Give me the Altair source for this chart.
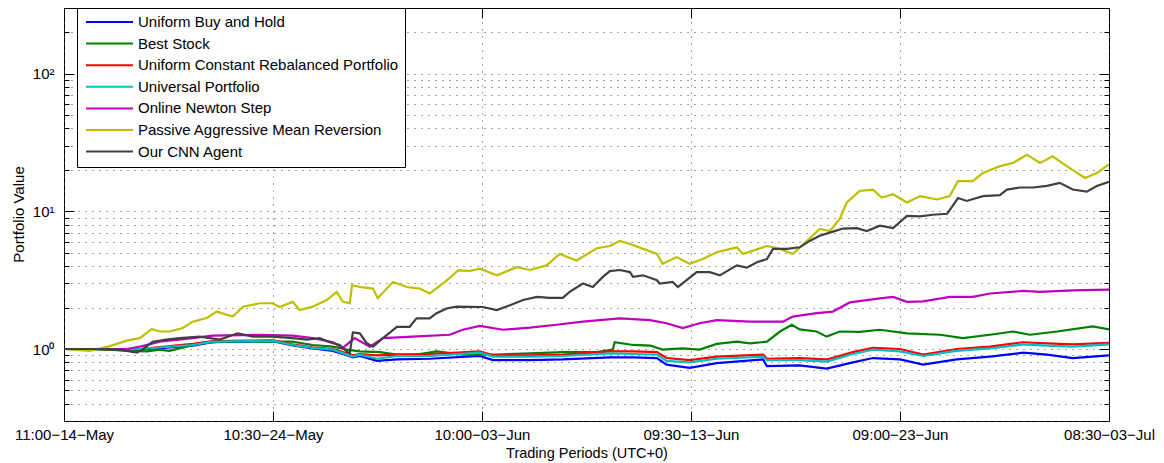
import json
import altair as alt
import pandas as pd

# ---------------- data ----------------
series_names = [
    "Uniform Buy and Hold",
    "Best Stock",
    "Uniform Constant Rebalanced Portfolio",
    "Universal Portfolio",
    "Online Newton Step",
    "Passive Aggressive Mean Reversion",
    "Our CNN Agent",
]
series_colors = ["#0000ff", "#008000", "#ff0000", "#00bfbf", "#bf00bf", "#bfbf00", "#404040"]

# trading period index (30-minute periods from 11:00 14-May)
rcb_periods = [0, 174, 295, 341, 419, 478, 524, 570, 616, 648, 662, 678, 717, 763, 838, 953, 983,
               1068, 1143, 1251, 1304, 1359, 1381, 1434, 1496, 1602, 1611, 1686, 1748, 1808, 1854,
               1916, 1969, 2046, 2122, 2198, 2253, 2312, 2395]
ubah_values = [1.0, 0.99, 1.06, 1.12, 1.13, 1.14, 1.06, 1.01, 0.97, 0.9, 0.87, 0.89, 0.82, 0.84,
               0.85, 0.89, 0.83, 0.83, 0.84, 0.87, 0.87, 0.86, 0.77, 0.73, 0.79, 0.84, 0.75, 0.76,
               0.72, 0.8, 0.86, 0.84, 0.77, 0.84, 0.88, 0.94, 0.91, 0.86, 0.9]
ucrp_values = [1.0, 1.0, 1.09, 1.14, 1.15, 1.16, 1.08, 1.03, 1.0, 0.93, 0.9, 0.92, 0.9, 0.91,
               0.92, 0.96, 0.9, 0.9, 0.91, 0.96, 0.96, 0.95, 0.86, 0.83, 0.88, 0.91, 0.85, 0.86,
               0.84, 0.95, 1.02, 1.0, 0.91, 1.0, 1.04, 1.12, 1.1, 1.08, 1.11]
up_values = [1.0, 1.0, 1.07, 1.13, 1.14, 1.15, 1.07, 1.02, 0.99, 0.91, 0.88, 0.91, 0.85, 0.89,
             0.89, 0.94, 0.88, 0.88, 0.89, 0.93, 0.92, 0.91, 0.82, 0.8, 0.85, 0.88, 0.83, 0.83,
             0.81, 0.92, 0.99, 0.96, 0.89, 0.97, 1.01, 1.08, 1.06, 1.04, 1.08]

best_periods = [0, 105, 144, 190, 219, 242, 281, 311, 357, 419, 478, 524, 570, 616, 648, 678, 724,
                763, 808, 854, 914, 992, 1068, 1143, 1221, 1258, 1262, 1304, 1343, 1372, 1418, 1457,
                1496, 1542, 1572, 1611, 1641, 1668, 1686, 1725, 1748, 1778, 1824, 1870, 1932, 2008,
                2060, 2122, 2175, 2214, 2276, 2358, 2395]
best_values = [1.0, 0.99, 0.97, 0.96, 0.99, 0.97, 1.04, 1.1, 1.13, 1.14, 1.13, 1.13, 1.07, 1.04,
               0.99, 0.96, 0.95, 0.91, 0.91, 0.96, 0.91, 0.91, 0.93, 0.95, 0.95, 0.99, 1.12, 1.07,
               1.06, 0.99, 1.01, 0.99, 1.09, 1.13, 1.1, 1.13, 1.34, 1.5, 1.39, 1.34, 1.23, 1.34,
               1.33, 1.38, 1.3, 1.27, 1.2, 1.27, 1.34, 1.27, 1.34, 1.46, 1.39]

ons_periods = [0, 144, 180, 219, 295, 341, 449, 524, 570, 616, 639, 666, 701, 731, 799, 884, 914,
               953, 1006, 1068, 1129, 1189, 1274, 1343, 1381, 1418, 1457, 1496, 1572, 1648, 1670,
               1725, 1762, 1801, 1870, 1900, 1932, 1969, 2030, 2083, 2122, 2198, 2237, 2312, 2395]
ons_values = [1.0, 1.0, 1.05, 1.13, 1.2, 1.25, 1.27, 1.25, 1.2, 1.12, 1.02, 1.2, 1.04, 1.2, 1.23,
              1.27, 1.38, 1.47, 1.38, 1.43, 1.5, 1.58, 1.67, 1.62, 1.54, 1.42, 1.54, 1.62, 1.58,
              1.58, 1.72, 1.82, 1.87, 2.18, 2.33, 2.39, 2.2, 2.22, 2.39, 2.39, 2.53, 2.64, 2.6,
              2.67, 2.7]

pamr_periods = [0, 59, 105, 144, 174, 201, 219, 242, 272, 295, 327, 350, 387, 410, 449, 478, 494,
                524, 540, 570, 602, 625, 639, 655, 660, 685, 708, 719, 754, 786, 815, 838, 873, 903,
                930, 953, 992, 1038, 1068, 1106, 1136, 1175, 1221, 1251, 1274, 1297, 1327, 1359,
                1372, 1404, 1434, 1464, 1496, 1542, 1556, 1611, 1641, 1670, 1703, 1732, 1755, 1778,
                1794, 1824, 1854, 1874, 1900, 1932, 1962, 2001, 2030, 2049, 2083, 2106, 2145, 2175,
                2207, 2237, 2266, 2298, 2340, 2367, 2395]
pamr_values = [1.0, 0.97, 1.05, 1.15, 1.2, 1.4, 1.34, 1.34, 1.42, 1.58, 1.68, 1.87, 1.72, 2.03,
               2.15, 2.15, 2.02, 2.2, 1.92, 2.03, 2.27, 2.6, 2.2, 2.15, 2.9, 2.8, 2.75, 2.34, 3.07,
               2.82, 2.75, 2.53, 3.07, 3.72, 3.7, 3.83, 3.43, 3.93, 3.75, 4.05, 4.9, 4.4, 5.4, 5.6,
               6.1, 5.8, 5.34, 4.9, 4.16, 4.65, 4.16, 4.5, 5.05, 5.48, 4.9, 5.6, 5.34, 4.9, 6.1,
               7.44, 7.2, 8.8, 11.6, 14.1, 14.4, 12.6, 13.3, 11.6, 12.9, 12.2, 12.9, 16.6, 16.6,
               19.0, 21.3, 22.5, 25.8, 22.5, 25.1, 21.3, 17.5, 19.0, 21.9]

cnn_periods = [0, 82, 128, 167, 180, 203, 235, 265, 311, 357, 398, 433, 478, 524, 556, 586, 609,
               632, 648, 655, 662, 678, 694, 708, 731, 763, 792, 808, 838, 854, 877, 900, 960, 992,
               1022, 1052, 1084, 1113, 1143, 1159, 1189, 1212, 1235, 1251, 1274, 1297, 1304, 1327,
               1359, 1365, 1395, 1407, 1427, 1450, 1480, 1503, 1542, 1565, 1588, 1611, 1625, 1657,
               1686, 1709, 1732, 1755, 1785, 1817, 1840, 1870, 1900, 1932, 1962, 1991, 2024, 2049,
               2069, 2106, 2145, 2161, 2191, 2221, 2253, 2282, 2312, 2344, 2367, 2395]
cnn_values = [1.0, 1.0, 0.99, 0.94, 0.99, 1.13, 1.17, 1.2, 1.23, 1.17, 1.3, 1.23, 1.23, 1.2, 1.17,
              1.2, 1.12, 1.07, 0.96, 0.93, 1.32, 1.3, 1.1, 1.04, 1.2, 1.45, 1.45, 1.67, 1.67, 1.82,
              1.97, 2.03, 2.02, 1.92, 2.08, 2.27, 2.39, 2.35, 2.35, 2.6, 2.99, 2.82, 3.34, 3.68,
              3.75, 3.62, 3.34, 3.43, 3.16, 2.99, 3.07, 2.82, 3.16, 3.62, 3.62, 3.43, 4.05, 3.9,
              4.27, 4.5, 5.34, 5.34, 5.48, 6.1, 6.65, 7.0, 7.5, 7.55, 7.2, 7.86, 7.55, 9.27, 9.2,
              9.45, 9.6, 12.5, 11.9, 12.9, 13.1, 14.4, 14.9, 14.9, 15.3, 16.1, 14.4, 13.9, 15.3,
              16.4]

x_tick_periods = [0, 479, 958, 1437, 1916, 2395]
x_tick_labels = ["11:00\u221214\u2212May", "10:30\u221224\u2212May", "10:00\u221203\u2212Jun",
                 "09:30\u221213\u2212Jun", "09:00\u221223\u2212Jun", "08:30\u221203\u2212Jul"]
y_major = [1, 10, 100]
y_major_labels = ["10\u2070", "10\u00b9", "10\u00b2"]
y_minor = [0.4, 0.5, 0.6, 0.7, 0.8, 0.9, 2, 3, 4, 5, 6, 7, 8, 9,
           20, 30, 40, 50, 60, 70, 80, 90, 200]
y_grid = [0.3] + y_minor[:6] + [1] + y_minor[6:14] + [10] + y_minor[14:22] + [100, 200]

# ---------------- assemble long table ----------------
series_data = [
    (series_names[0], rcb_periods, ubah_values),
    (series_names[1], best_periods, best_values),
    (series_names[2], rcb_periods, ucrp_values),
    (series_names[3], rcb_periods, up_values),
    (series_names[4], ons_periods, ons_values),
    (series_names[5], pamr_periods, pamr_values),
    (series_names[6], cnn_periods, cnn_values),
]
rows = []
for name, ps, vs in series_data:
    for p, v in zip(ps, vs):
        rows.append({"series": name, "period": p, "value": v})
df = pd.DataFrame(rows)

FONT = "Liberation Sans"
x_scale = alt.Scale(domain=[0, 2395], nice=False, zero=False)
y_scale = alt.Scale(type="log", domain=[0.3, 300], nice=False)

x_label_expr = (json.dumps(x_tick_labels, ensure_ascii=False)
                + "[indexof(" + json.dumps(x_tick_periods) + ", datum.value)]")
y_label_expr = ("indexof(" + json.dumps(y_major) + ", datum.value) >= 0 ? "
                + json.dumps(y_major_labels, ensure_ascii=False)
                + "[indexof(" + json.dumps(y_major) + ", datum.value)] : ''")

grid_style = dict(grid=True, gridColor="#444444", gridDash=[1, 6], gridWidth=1)

main_x_axis = alt.Axis(
    values=x_tick_periods, labelExpr=x_label_expr, ticks=False, tickSize=0, domain=False,
    labelFontSize=15, labelColor="black", labelFont=FONT, labelPadding=6.5,
    labelFlush=False, labelOverlap=False,
    title="Trading Periods (UTC+0)", titleFontSize=14.5, titleFontWeight="normal",
    titleColor="black", titleFont=FONT, titlePadding=3.5, **grid_style)
main_y_axis = alt.Axis(
    values=y_grid, labelExpr=y_label_expr, ticks=False, tickSize=0, domain=False,
    labelFontSize=15, labelColor="black", labelFont=FONT, labelPadding=10,
    labelOverlap=False,
    title="Portfolio Value", titleFontSize=15, titleFontWeight="normal",
    titleColor="black", titleFont=FONT, titleX=-46, titleY=206, titleBaseline="middle",
    **grid_style)


def tick_axis(orient, values, size):
    return alt.Axis(orient=orient, values=values, offset=-size, tickSize=size, ticks=True,
                    tickColor="black", tickWidth=1, domain=False, labels=False, grid=False,
                    title=None)


legend = alt.Legend(
    orient="none", legendX=13, legendY=0, title=None, direction="vertical",
    symbolType="M-4,0H4", symbolSize=138, symbolStrokeWidth=2, symbolOffset=18.5,
    labelOffset=21, labelFontSize=15, labelFont=FONT, labelColor="black", labelLimit=400,
    padding=6.5, rowPadding=5.6, strokeColor="black", fillColor="white")

base = alt.Chart(df)

lines = base.mark_line(strokeWidth=2.2, clip=True).encode(
    x=alt.X("period:Q", scale=x_scale, axis=main_x_axis),
    y=alt.Y("value:Q", scale=y_scale, axis=main_y_axis),
    color=alt.Color("series:N", scale=alt.Scale(domain=series_names, range=series_colors),
                    legend=legend),
)


def ghost(x_axis, y_axis):
    return base.mark_line(opacity=0, strokeOpacity=0).encode(
        x=alt.X("period:Q", scale=x_scale, axis=x_axis),
        y=alt.Y("value:Q", scale=y_scale, axis=y_axis),
    )


layer2 = ghost(tick_axis("bottom", x_tick_periods, 10), tick_axis("left", y_major, 10))
layer3 = ghost(tick_axis("top", x_tick_periods, 10), tick_axis("right", y_major, 10))
layer4 = ghost(None, tick_axis("left", y_minor, 5))
layer5 = ghost(None, tick_axis("right", y_minor, 5))

chart = (
    alt.layer(lines, layer2, layer3, layer4, layer5)
    .resolve_axis(x="independent", y="independent")
    .properties(width=1045, height=413,
                padding={"left": 56, "top": 0, "right": 47, "bottom": 42},
                autosize=alt.AutoSizeParams(type="none"))
    .configure(font=FONT)
    .configure_view(stroke="black", strokeWidth=1)
)

chart.save("out.html", embed_options={"renderer": "svg", "actions": False})
